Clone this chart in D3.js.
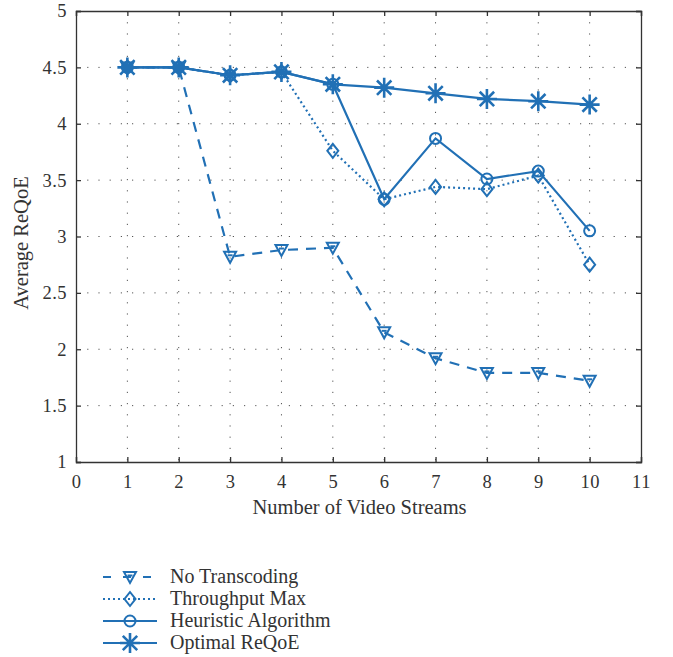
<!DOCTYPE html>
<html><head><meta charset="utf-8">
<script src="https://cdn.jsdelivr.net/npm/d3@7"></script>
<style>body{margin:0;background:#fff}svg{display:block}text{font-family:"Liberation Serif","DejaVu Serif",serif;fill:#333}</style>
</head><body><svg id="c" width="673" height="657"></svg>
<script>
const xValues = [1,2,3,4,5,6,7,8,9,10];
const noTranscoding = [4.5,4.5,2.82,2.88,2.9,2.15,1.92,1.79,1.79,1.72];
const throughputMax = [4.5,4.5,4.43,4.46,3.76,3.33,3.44,3.42,3.54,2.75];
const heuristic = [4.5,4.5,4.43,4.46,4.35,3.33,3.87,3.51,3.58,3.05];
const optimal = [4.5,4.5,4.43,4.46,4.35,4.32,4.27,4.22,4.2,4.17];
const seriesNames = ["No Transcoding","Throughput Max","Heuristic Algorithm","Optimal ReQoE"];
const xTicks = d3.range(0,12);
const yTicks = [1,1.5,2,2.5,3,3.5,4,4.5,5];
const color = "#2170b5";

const svg = d3.select("#c");
const L=76,R=641,T=11,B=462;
const x = d3.scaleLinear().domain([0,11]).range([L,R]);
const y = d3.scaleLinear().domain([1,5]).range([B,T]);

// grid
const g = svg.append("g");
g.selectAll(".gx").data(xTicks.slice(1,-1)).enter().append("line")
 .attr("x1",d=>x(d)).attr("x2",d=>x(d)).attr("y1",T).attr("y2",B)
 .attr("stroke","#555").attr("stroke-width",1).attr("stroke-dasharray","1.2,10");
g.selectAll(".gy").data(yTicks.slice(1,-1)).enter().append("line")
 .attr("y1",d=>y(d)).attr("y2",d=>y(d)).attr("x1",L).attr("x2",R)
 .attr("stroke","#555").attr("stroke-width",1).attr("stroke-dasharray","1.2,10");

// axes
const xa = svg.append("g").attr("transform",`translate(0,${B})`)
 .call(d3.axisBottom(x).tickValues(xTicks).tickSize(-5).tickPadding(13).tickFormat(d3.format("d")));
const ya = svg.append("g").attr("transform",`translate(${L},0)`)
 .call(d3.axisLeft(y).tickValues(yTicks).tickSize(-5).tickPadding(9).tickFormat(d=>String(d)));
const xt = svg.append("g").attr("transform",`translate(0,${T})`)
 .call(d3.axisTop(x).tickValues(xTicks).tickSize(-5).tickFormat(""));
const yr = svg.append("g").attr("transform",`translate(${R},0)`)
 .call(d3.axisRight(y).tickValues(yTicks).tickSize(-5).tickFormat(""));
[xa,ya,xt,yr].forEach(a=>{
 a.selectAll("path,line").attr("stroke","#333").attr("stroke-width",1.3);
 a.selectAll("text").style("font-size","18.5px").style("letter-spacing","0.5px").attr("fill","#333");
});

svg.append("text").attr("x",(L+R)/2+1).attr("y",514).attr("text-anchor","middle")
 .style("font-size","20.5px").text("Number of Video Streams");
svg.append("text").attr("transform","translate(28,243) rotate(-90)").attr("text-anchor","middle")
 .style("font-size","20.5px").text("Average ReQoE");

// markers
function marker(sel,type,cx,cy){
 const m = sel.append("g").attr("transform",`translate(${cx},${cy})`)
  .attr("fill","none").attr("stroke",color).attr("stroke-width",2);
 if(type==="tri"){
  m.append("path").attr("d","M-6,-5L6,-5L0,6Z");
  m.append("path").attr("d","M-2.5,-1.5L2.5,-1.5");
 } else if(type==="dia"){
  m.append("path").attr("d","M0,-7L5.5,0L0,7L-5.5,0Z");
 } else if(type==="circ"){
  m.append("circle").attr("r",5.5);
 } else {
  m.attr("stroke-width",2.6);
  const r=10;
  m.append("path").attr("d",`M${-r},0L${r},0M0,${-r}L0,${r}M${-r*0.72},${-r*0.72}L${r*0.72},${r*0.72}M${-r*0.72},${r*0.72}L${r*0.72},${-r*0.72}`);
 }
}
const series = [
 {vals:noTranscoding,dash:"10,8",m:"tri"},
 {vals:throughputMax,dash:"2,3",m:"dia"},
 {vals:heuristic,dash:null,m:"circ"},
 {vals:optimal,dash:null,m:"star"}
];
const line = d3.line().x(d=>x(d[0])).y(d=>y(d[1]));
series.forEach(s=>{
 const pts = xValues.map((xv,i)=>[xv,s.vals[i]]);
 svg.append("path").datum(pts).attr("d",line).attr("fill","none")
  .attr("stroke",color).attr("stroke-width",2.2).attr("stroke-dasharray",s.dash);
 const mg = svg.append("g");
 pts.forEach(p=>marker(mg,s.m,x(p[0]),y(p[1])));
});

// legend
const rows=[577,599,621,643];
series.forEach((s,i)=>{
 svg.append("line").attr("x1",103).attr("x2",157).attr("y1",rows[i]).attr("y2",rows[i])
  .attr("stroke",color).attr("stroke-width",2.2).attr("stroke-dasharray",s.dash?(s.m==="tri"?"8,12":"2,3"):null);
 marker(svg,s.m,130,rows[i]);
 svg.append("text").attr("x",170).attr("y",rows[i]+6).style("font-size","20px").text(seriesNames[i]);
});
</script></body></html>
